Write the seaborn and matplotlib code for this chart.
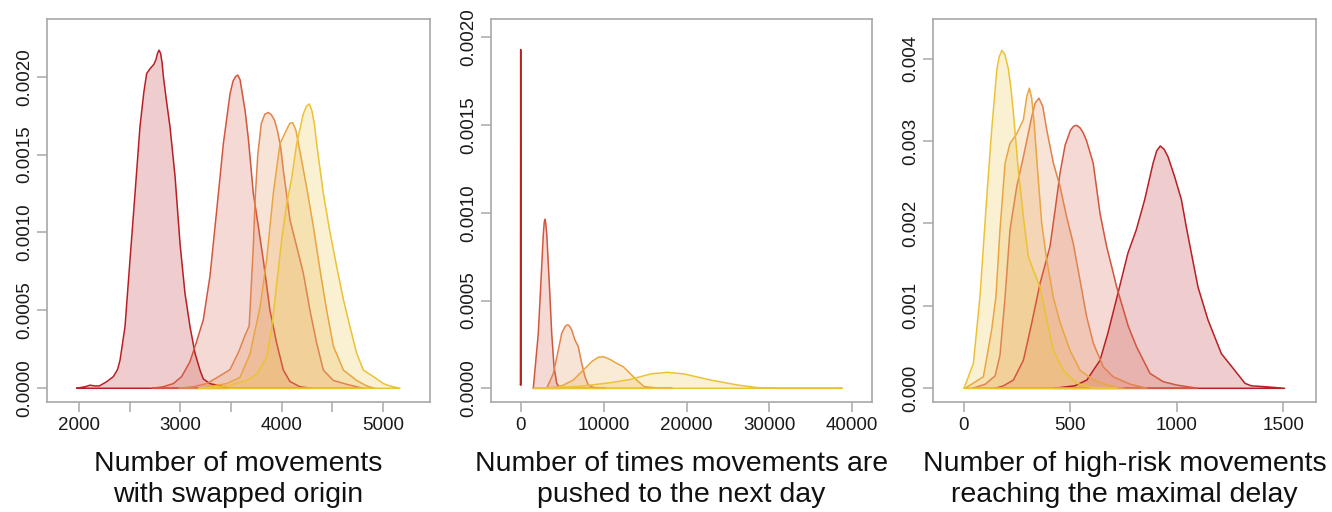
import numpy as np
import matplotlib
matplotlib.use("Agg")
import matplotlib.pyplot as plt
import seaborn as sns

# ---------------- data ----------------
COLORS = ["#B81F24", "#D2553D", "#E0834C", "#E9A542", "#ECC235"]

# Panel 1: number of movements with swapped origin (density in 1e-4)
swap_x_1 = [1977, 2060, 2109, 2160, 2200, 2273, 2339, 2380, 2405, 2454, 2503, 2553, 2602, 2640, 2668, 2700, 2740, 2760, 2775, 2790, 2805, 2820, 2833, 2860, 2898, 2948, 2997, 3046, 3096, 3145, 3194, 3227, 3293, 3425, 3474]
swap_y_1 = [0, 0.1, 0.2, 0.15, 0.15, 0.42, 0.75, 1.2, 1.8, 3.95, 8.2, 12.5, 16.8, 19.0, 20.2, 20.5, 20.8, 21.1, 21.5, 21.7, 21.5, 20.9, 20.0, 18.6, 16.8, 13.6, 9.3, 6.1, 3.95, 2.25, 1.17, 0.6, 0.3, 0.1, 0]
swap_x_2 = [2724, 2832, 2931, 3013, 3095, 3161, 3227, 3293, 3359, 3425, 3491, 3520, 3545, 3567, 3590, 3615, 3640, 3672, 3721, 3770, 3820, 3885, 3951, 4017, 4083, 4181, 4296]
swap_y_2 = [0, 0.1, 0.3, 0.75, 1.7, 3.0, 4.4, 7.2, 11.4, 15.7, 18.9, 19.7, 20.0, 20.1, 19.8, 18.8, 17.8, 16.0, 12.5, 10.4, 8.2, 5.0, 2.9, 1.17, 0.43, 0.1, 0]
swap_x_3 = [2990, 3128, 3260, 3391, 3491, 3580, 3639, 3680, 3700, 3720, 3740, 3765, 3800, 3835, 3869, 3900, 3930, 3960, 3990, 4017, 4083, 4149, 4214, 4280, 4346, 4412, 4511, 4675, 4807]
swap_y_3 = [0, 0.1, 0.3, 0.8, 1.2, 2.4, 3.4, 4.0, 6.5, 9.0, 12.3, 15.0, 17.0, 17.6, 17.7, 17.55, 17.2, 16.5, 15.5, 14.0, 10.8, 9.1, 7.4, 5.0, 2.9, 1.17, 0.5, 0.2, 0]
swap_x_4 = [3194, 3457, 3589, 3688, 3787, 3852, 3918, 3984, 4050, 4080, 4109, 4140, 4181, 4247, 4313, 4379, 4445, 4511, 4610, 4741, 4840, 4921]
swap_y_4 = [0, 0.3, 0.7, 2.2, 5.2, 8.2, 12.5, 15.7, 16.6, 17.0, 17.05, 16.6, 15.2, 12.9, 10.4, 7.6, 5.0, 2.7, 1.17, 0.5, 0.15, 0]
swap_x_5 = [3184, 3457, 3655, 3754, 3852, 3900, 3940, 4000, 4050, 4100, 4149, 4214, 4245, 4274, 4300, 4325, 4346, 4412, 4478, 4544, 4610, 4675, 4741, 4807, 4906, 5005, 5069, 5168]
swap_y_5 = [0, 0.15, 0.5, 0.9, 2.0, 3.8, 6.0, 9.5, 11.8, 13.5, 15.7, 17.6, 18.1, 18.25, 17.8, 16.9, 15.7, 12.5, 10.0, 7.8, 5.7, 3.95, 2.25, 1.17, 0.75, 0.3, 0.15, 0]

# Panel 2: number of times movements are pushed to the next day (density in 1e-4)
push_x_1 = [-30, 0, 30]
push_y_1 = [0.2, 19.3, 0.2]
push_x_2 = [1520, 2123, 2533, 2734, 2850, 2931, 3010, 3136, 3450, 3740, 4017, 4343, 4745]
push_y_2 = [0, 3.13, 6.93, 8.83, 9.5, 9.63, 9.45, 8.83, 5.98, 3.13, 1.23, 0.28, 0]
push_x_3 = [3136, 3940, 4536, 4946, 5344, 5550, 5742, 5950, 6152, 6550, 6948, 7358, 7756, 8154, 8757, 10250]
push_y_3 = [0, 0.85, 2.18, 3.13, 3.51, 3.6, 3.61, 3.5, 3.32, 2.75, 2.37, 1.42, 0.66, 0.19, 0.05, 0]
push_x_4 = [1608, 4000, 5000, 6345, 7551, 8565, 9361, 9964, 10772, 11580, 12377, 13185, 13993, 14874, 16500, 18291]
push_y_4 = [0, 0.05, 0.15, 0.47, 1.04, 1.52, 1.77, 1.8, 1.65, 1.42, 1.23, 0.85, 0.47, 0.1, 0.02, 0]
push_x_5 = [1608, 6834, 10854, 13266, 15678, 17688, 19698, 22914, 26130, 28542, 30954, 38793]
push_y_5 = [0, 0.1, 0.32, 0.51, 0.82, 0.91, 0.82, 0.47, 0.19, 0.04, 0, 0]

# Panel 3: number of high-risk movements reaching the maximal delay (density in 1e-3)
risk_x_1 = [421, 520, 577, 639, 676, 723, 770, 809, 849, 888, 905, 922, 940, 958, 989, 1021, 1044, 1068, 1099, 1146, 1209, 1271, 1320, 1350, 1412, 1506]
risk_y_1 = [0, 0.03, 0.1, 0.34, 0.67, 1.15, 1.64, 1.92, 2.29, 2.73, 2.88, 2.94, 2.9, 2.81, 2.57, 2.29, 1.96, 1.64, 1.23, 0.83, 0.42, 0.22, 0.06, 0.03, 0.02, 0]
risk_x_2 = [146, 185, 232, 279, 318, 357, 404, 430, 451, 475, 500, 515, 529, 545, 560, 576, 607, 639, 670, 701, 717, 772, 811, 874, 936, 999, 1097]
risk_y_2 = [0, 0.03, 0.1, 0.34, 0.79, 1.27, 1.72, 2.2, 2.61, 2.95, 3.13, 3.18, 3.19, 3.16, 3.1, 3.0, 2.73, 2.12, 1.72, 1.40, 1.23, 0.75, 0.5, 0.18, 0.08, 0.04, 0]
risk_x_3 = [40, 100, 146, 169, 193, 216, 248, 279, 318, 334, 352, 370, 389, 420, 451, 482, 513, 545, 576, 607, 654, 701, 780, 860]
risk_y_3 = [0, 0.05, 0.15, 0.4, 1.11, 1.92, 2.45, 2.81, 3.29, 3.46, 3.52, 3.42, 3.13, 2.73, 2.45, 2.08, 1.76, 1.31, 0.87, 0.55, 0.26, 0.14, 0.05, 0]
risk_x_4 = [5, 91, 130, 150, 169, 193, 216, 248, 279, 295, 307, 318, 330, 344, 365, 389, 420, 451, 498, 545, 607, 686, 750]
risk_y_4 = [0, 0.14, 0.71, 1.11, 1.92, 2.73, 2.97, 3.09, 3.26, 3.54, 3.64, 3.52, 3.2, 2.7, 2.0, 1.55, 1.1, 0.8, 0.46, 0.22, 0.1, 0.03, 0]
risk_x_5 = [0, 44, 75, 107, 130, 154, 165, 178, 192, 208, 220, 232, 255, 279, 302, 326, 357, 389, 420, 466, 529, 607, 717]
risk_y_5 = [0, 0.3, 1.11, 2.32, 3.13, 3.86, 4.02, 4.10, 4.05, 3.88, 3.65, 3.34, 2.65, 2.08, 1.60, 1.43, 1.23, 0.83, 0.46, 0.22, 0.06, 0.01, 0]

xlabels = ["Number of movements\nwith swapped origin",
           "Number of times movements are\npushed to the next day",
           "Number of high-risk movements\nreaching the maximal delay"]

panels = [
    dict(curves=[(swap_x_1, swap_y_1), (swap_x_2, swap_y_2), (swap_x_3, swap_y_3),
                 (swap_x_4, swap_y_4), (swap_x_5, swap_y_5)],
         yscale=1e-4, xlim=(1684, 5465), ylim=(-0.000088, 0.00237),
         xticks=[2000, 2500, 3000, 3500, 4000, 4500, 5000],
         xticklabels=["2000", "", "3000", "", "4000", "", "5000"],
         yticks=[0, 0.0005, 0.001, 0.0015, 0.002], yfmt="{:.4f}"),
    dict(curves=[(push_x_1, push_y_1), (push_x_2, push_y_2), (push_x_3, push_y_3),
                 (push_x_4, push_y_4), (push_x_5, push_y_5)],
         yscale=1e-4, xlim=(-3619, 42376), ylim=(-0.000078, 0.002104),
         xticks=[0, 10000, 20000, 30000, 40000],
         xticklabels=["0", "10000", "20000", "30000", "40000"],
         yticks=[0, 0.0005, 0.001, 0.0015, 0.002], yfmt="{:.4f}"),
    dict(curves=[(risk_x_1, risk_y_1), (risk_x_2, risk_y_2), (risk_x_3, risk_y_3),
                 (risk_x_4, risk_y_4), (risk_x_5, risk_y_5)],
         yscale=1e-3, xlim=(-145.6, 1652), ylim=(-0.000166, 0.00448),
         xticks=[0, 500, 1000, 1500],
         xticklabels=["0", "500", "1000", "1500"],
         yticks=[0, 0.001, 0.002, 0.003, 0.004], yfmt="{:.3f}"),
]

# ---------------- drawing ----------------
sns.set_theme(style="white")
plt.rcParams["font.family"] = ["Liberation Sans", "DejaVu Sans"]

W, H = 1332, 512
fig = plt.figure(figsize=(W / 100, H / 100), dpi=100)
boxes = [(47, 430), (490.7, 872), (933, 1315.7)]
top_px, bot_px = 19, 402
GRAY = "#A8A8A8"
TICKFS = 13.5

for (l, r), p, xl in zip(boxes, panels, xlabels):
    ax = fig.add_axes([l / W, 1 - bot_px / H, (r - l) / W, (bot_px - top_px) / H])
    for (xs, ys), c in zip(p["curves"], COLORS):
        x = np.asarray(xs, dtype=float)
        y = np.asarray(ys, dtype=float) * p["yscale"]
        ax.fill_between(x, y, 0, color=c, alpha=0.22, lw=0)
        xc = np.append(x, x[0])
        yc = np.append(y, y[0])
        sns.lineplot(x=xc, y=yc, ax=ax, color=c, lw=1.1, sort=False,
                     estimator=None, legend=False)
        ax.lines[-1].set_solid_joinstyle("round")
    ax.set_xlim(*p["xlim"])
    ax.set_ylim(*p["ylim"])
    ax.set_xticks(p["xticks"])
    ax.set_xticklabels(p["xticklabels"], fontsize=TICKFS, color="#1a1a1a")
    ax.set_yticks(p["yticks"])
    ax.set_yticklabels([p["yfmt"].format(v) for v in p["yticks"]],
                       fontsize=TICKFS, color="#1a1a1a", rotation=90, va="center")
    ax.tick_params(axis="both", direction="out", length=7, width=1.1,
                   color=GRAY, bottom=True, left=True)
    ax.tick_params(axis="x", pad=4)
    ax.tick_params(axis="y", pad=3)
    for s in ax.spines.values():
        s.set_color(GRAY)
        s.set_linewidth(1.2)
        s.set_visible(True)
    ax.set_ylabel("")
    ax.set_xlabel(xl, fontsize=20.5, labelpad=12, linespacing=1.25, color="#111111")
    ax.grid(False)

fig.savefig("out.png", dpi=100, facecolor="white")
